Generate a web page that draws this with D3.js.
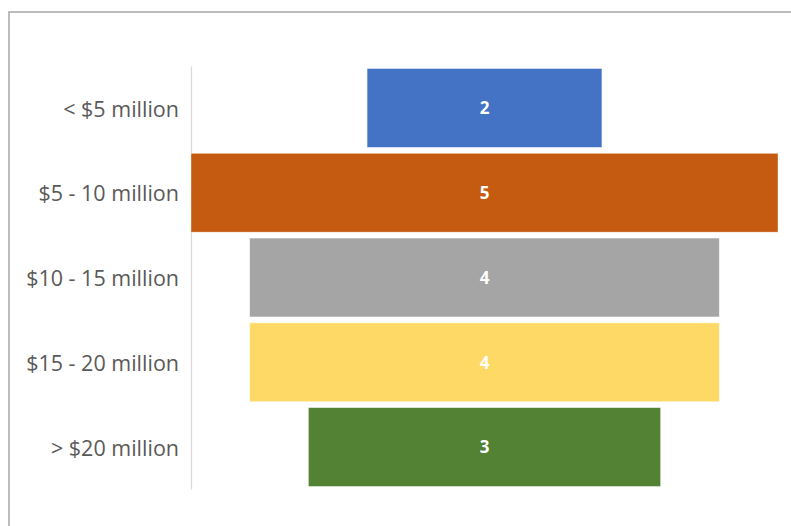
<!DOCTYPE html>
<html>
<head>
<meta charset="utf-8">
<script src="https://cdn.jsdelivr.net/npm/d3@7"></script>
<style>
  html, body { margin: 0; padding: 0; background: #fff; overflow: hidden; }
  svg { display: block; }
</style>
</head>
<body>
<div id="chart"></div>
<script>
// funnel: deal counts by funding band
const categories = ['< $5 million', '$5 - 10 million', '$10 - 15 million', '$15 - 20 million', '> $20 million'];
const counts = [2, 5, 4, 4, 3];
const colors = ['#4472c4', '#c55a11', '#a5a5a5', '#ffd966', '#548235'];

const W = 791, H = 526;
const M = { top: 66, right: 13, bottom: 37, left: 191 };
const innerW = W - M.left - M.right, innerH = H - M.top - M.bottom;

const svg = d3.select('#chart').append('svg')
  .attr('width', W).attr('height', H);

// chart area frame (runs off the right / bottom edge)
svg.append('rect')
  .attr('x', 9).attr('y', 12)
  .attr('width', W + 20).attr('height', H + 20)
  .attr('fill', 'none').attr('stroke', '#a6a6a6').attr('stroke-width', 1.5);

const g = svg.append('g').attr('transform', `translate(${M.left},${M.top})`);

const y = d3.scaleBand().domain(categories).range([0, innerH]).paddingInner(0.07).paddingOuter(0.03);
const w = d3.scaleLinear().domain([0, d3.max(counts)]).range([0, innerW]);
const cx = innerW / 2;

// vertical category axis
const yAxis = g.append('g').call(d3.axisLeft(y).tickSize(0).tickPadding(12));
yAxis.select('.domain').attr('stroke', '#d9d9d9').attr('stroke-width', 1.2);
yAxis.selectAll('text')
  .attr('fill', '#595959')
  .attr('dy', '0.4em')
  .style('font-family', '"Open Sans", Lato, sans-serif')
  .style('font-size', '21.5px');

const rows = categories.map((c, i) => ({ c, v: counts[i], col: colors[i] }));

g.selectAll('rect.bar').data(rows).join('rect')
  .attr('class', 'bar')
  .attr('x', d => cx - w(d.v) / 2)
  .attr('y', d => y(d.c))
  .attr('width', d => w(d.v))
  .attr('height', y.bandwidth())
  .attr('fill', d => d.col)
  .attr('stroke', '#ffffff').attr('stroke-opacity', 0.5).attr('stroke-width', 0.75);

g.selectAll('text.val').data(rows).join('text')
  .attr('class', 'val')
  .attr('x', cx)
  .attr('y', d => y(d.c) + y.bandwidth() / 2)
  .attr('dy', '0.38em')
  .attr('text-anchor', 'middle')
  .attr('fill', '#fff')
  .style('font-family', '"Open Sans", Lato, sans-serif')
  .style('font-weight', 'bold')
  .style('font-size', '17px')
  .text(d => d.v);
</script>
</body>
</html>
